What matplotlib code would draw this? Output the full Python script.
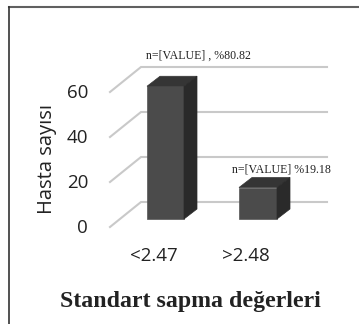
import matplotlib
matplotlib.use('Agg')
import matplotlib.pyplot as plt
from matplotlib.patches import Polygon

categories = ['<2.47', '>2.48']
values = [59, 14]
percent_labels = ['n=[VALUE] , %80.82', 'n=[VALUE] %19.18']
y_ticks = [0, 20, 40, 60]

W, H = 359, 324
fig = plt.figure(figsize=(W / 100, H / 100), dpi=100, facecolor='white')
ax = fig.add_axes([0, 0, 1, 1])

# one category = 92.5 px, one patient = 2.25 px
px_x = 92.5
px_y = 2.25
x0, y0 = 165.5, 219
ax.set_xlim(-x0 / px_x, (W - x0) / px_x)
ax.set_ylim((y0 - H) / px_y, y0 / px_y)
ax.axis('off')

# depth of the fake 3d box
dx = 13 / px_x
dy = 10 / px_y
half = 18.5 / px_x

# floor offsets of the wall lines
wall_left = -24.5 / px_x
wall_right = 161.5 / px_x
wall_dy = 17 / px_y
tick_left = -55.5 / px_x
tick_dy = -8 / px_y

for t in y_ticks:
    ax.plot([tick_left, wall_left, wall_right],
            [t + tick_dy, t + wall_dy, t + wall_dy],
            color='#c9c9c9', lw=1.5, solid_joinstyle='miter', zorder=1)
    ax.text(tick_left - 22 / px_x, t + tick_dy - 1 / px_y, str(t), ha='right', va='center',
            fontsize=13.5, family='Open Sans', color='#222222')

for i, v in enumerate(values):
    l, r = i - half, i + half
    if i == 1:
        l, r = 1 - 19 / px_x, 1 + 19 / px_x
    ax.add_patch(Polygon([(l, 0), (r, 0), (r, v), (l, v)], fc='#4b4b4b', ec='#555555', lw=0.5, zorder=3))
    ax.add_patch(Polygon([(l, v), (r, v), (r + dx, v + dy), (l + dx, v + dy)], fc='#353535', ec='#353535', lw=0.5, zorder=3))
    ax.add_patch(Polygon([(r, 0), (r + dx, dy), (r + dx, v + dy), (r, v)], fc='#2a2a2a', ec='#2a2a2a', lw=0.5, zorder=3))
    ax.text(i - 12 / px_x, -37 / px_y, categories[i], ha='center', va='center',
            fontsize=13.5, family='Open Sans', color='#222222')

ax.text(32.5 / px_x, 163 / px_y, percent_labels[0], ha='center', va='center',
        fontsize=8.6, family='Liberation Serif', color='#222222')
ax.text(115.5 / px_x, 50 / px_y, percent_labels[1], ha='center', va='center',
        fontsize=8.6, family='Liberation Serif', color='#222222')

ax.text(-118.5 / px_x, 60.5 / px_y, 'Hasta sayısı', rotation=90, ha='center', va='center',
        fontsize=14.5, family='Open Sans', color='#222222')
ax.text(24.5 / px_x, -82.5 / px_y, 'Standart sapma değerleri', ha='center', va='center',
        fontsize=17.2, family='Liberation Serif', weight='bold', color='#222222')

# frame of the original picture, only top and left survive
frame_left = (8.5 - x0) / px_x
frame_top = (y0 - 6.5) / px_y
frame_right = (358 - x0) / px_x
frame_bottom = (y0 - H) / px_y
ax.plot([frame_left, frame_right], [frame_top, frame_top], color='#606060', lw=1.5, zorder=5)
ax.plot([frame_left, frame_left], [frame_top, frame_bottom], color='#333333', lw=1.2, zorder=5)

fig.savefig('out.png', dpi=100)
